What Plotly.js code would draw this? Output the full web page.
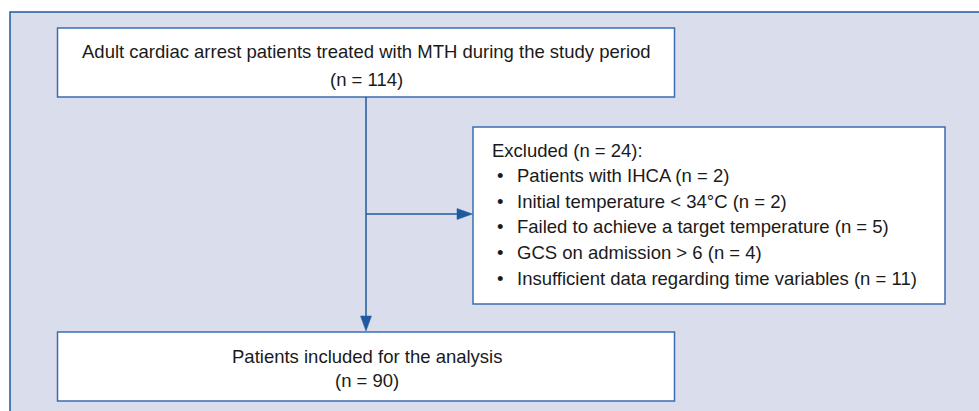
<!DOCTYPE html>
<html>
<head>
<meta charset="utf-8">
<script src="https://cdn.plot.ly/plotly-3.0.1.min.js"></script>
<style>
html,body{margin:0;padding:0;background:#fff;}
#chart{width:979px;height:411px;}
</style>
</head>
<body>
<div id="chart"></div>
<script>
// ---- data ----
const enrolledLabel = "Adult cardiac arrest patients treated with MTH during the study period";
const enrolledN = 114;
const excludedLabel = "Excluded";
const excludedN = 24;
const exclusionReasons = [
  "Patients with IHCA",
  "Initial temperature &lt; 34°C",
  "Failed to achieve a target temperature",
  "GCS on admission &gt; 6",
  "Insufficient data regarding time variables"
];
const exclusionCounts = [2, 2, 5, 4, 11];
const includedLabel = "Patients included for the analysis";
const includedN = 90;

// ---- layout geometry ----
const FONT = "'Liberation Sans', Arial, sans-serif";
const FS = 18.5;
const TXT = "#1a1a1a";
const PANEL_FILL = "#dadeec";
const DARK = "#1f5aa0";
const BOXLINE = "#3b6eae";

const topBox = {x0: 57.5, y0: 28, x1: 674.5, y1: 97};
const exBox = {x0: 473, y0: 127, x1: 945, y1: 304};
const botBox = {x0: 57.5, y0: 332, x1: 674.5, y1: 401};
const stemX = 366;
const branchY = 214;
const head = 16, hw = 5.5;

const shapes = [];
shapes.push({type: "rect", x0: 10, y0: 12, x1: 1000, y1: 430, fillcolor: PANEL_FILL, line: {color: DARK, width: 1.5}, layer: "below"});
[topBox, exBox, botBox].forEach(b => shapes.push({type: "rect", x0: b.x0, y0: b.y0, x1: b.x1, y1: b.y1, fillcolor: "#ffffff", line: {color: BOXLINE, width: 1.5}, layer: "below"}));
shapes.push({type: "line", x0: stemX, y0: topBox.y1, x1: stemX, y1: botBox.y0 - head, line: {color: DARK, width: 1.5}});
shapes.push({type: "path", path: `M ${stemX - hw} ${botBox.y0 - head} L ${stemX + hw} ${botBox.y0 - head} L ${stemX} ${botBox.y0 - 1} Z`, fillcolor: DARK, line: {color: DARK, width: 0.5}});
shapes.push({type: "line", x0: stemX, y0: branchY, x1: exBox.x0 - head, y1: branchY, line: {color: DARK, width: 1.5}});
shapes.push({type: "path", path: `M ${exBox.x0 - head} ${branchY - hw} L ${exBox.x0 - head} ${branchY + hw} L ${exBox.x0 - 0.5} ${branchY} Z`, fillcolor: DARK, line: {color: DARK, width: 0.5}});

const ann = [];
function txt(x, y, t, xanchor) {
  ann.push({x: x, y: y, xref: "x", yref: "y", text: t, showarrow: false, xanchor: xanchor || "center", yanchor: "middle",
            borderpad: 0, font: {family: FONT, size: FS, color: TXT}});
}
const OFF = 0.3465 * FS; // baseline -> middle of text box
const cx = (topBox.x0 + topBox.x1) / 2 + 0.5;
txt(cx, 58 - OFF, enrolledLabel);
txt(cx, 86 - OFF, "(n = " + enrolledN + ")");
txt(491, 156.5 - OFF, excludedLabel + " (n = " + excludedN + "):", "left");
const baseY = [182, 207.5, 233, 258.5, 284.5];
exclusionReasons.forEach((r, i) => {
  txt(496, baseY[i] - OFF, "•", "left");
  txt(516, baseY[i] - OFF, r + " (n = " + exclusionCounts[i] + ")", "left");
});
txt(cx, 363 - OFF, includedLabel);
txt(cx, 387 - OFF, "(n = " + includedN + ")");

const layout = {
  width: 979, height: 411,
  margin: {l: 0, r: 0, t: 0, b: 0},
  paper_bgcolor: "#ffffff", plot_bgcolor: "#ffffff",
  xaxis: {range: [0, 979], visible: false, fixedrange: true},
  yaxis: {range: [411, 0], visible: false, fixedrange: true},
  showlegend: false,
  shapes: shapes,
  annotations: ann
};
Plotly.newPlot("chart", [], layout, {staticPlot: true, displayModeBar: false});
</script>
</body>
</html>
